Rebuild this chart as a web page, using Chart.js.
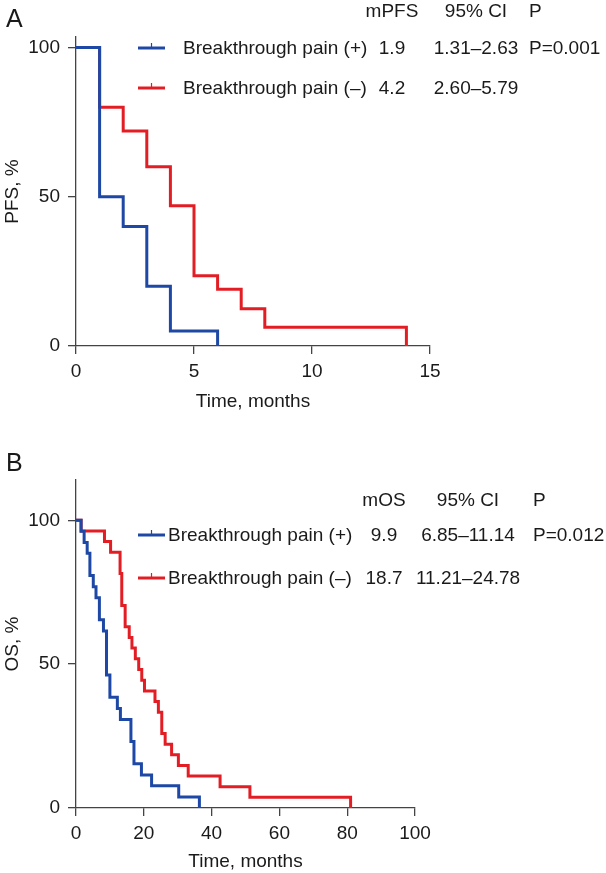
<!DOCTYPE html>
<html>
<head>
<meta charset="utf-8">
<script src="https://cdn.jsdelivr.net/npm/chart.js@4.4.1/dist/chart.umd.min.js"></script>
<style>
  body { margin: 0; background: #fff; }
  canvas { display: block; }
</style>
</head>
<body>
<canvas id="pfsChart" width="606" height="430"></canvas>
<canvas id="osChart" width="606" height="443"></canvas>
<script>
// Panel A - progression-free survival
const pfsTimePos = [0, 1, 2, 3, 4, 6];
const pfsSurvPos = [100, 50, 40, 20, 5, 0];
const pfsTimeNeg = [0, 1, 2, 3, 4, 5, 6, 7, 8, 14];
const pfsSurvNeg = [100, 80, 72, 60, 47, 23.5, 19, 12.5, 6.3, 0];
const pfsXTicks = [0, 5, 10, 15];

// Panel B - overall survival
const osTimePos = [0, 1.5, 2.4, 3.3, 4.1, 5.1, 5.9, 6.9, 8.1, 9.0, 10.0, 12.2, 13.1, 16.2, 17.1, 19.3, 22.3, 30.3, 36.4];
const osSurvPos = [100, 96.2, 92.3, 88.5, 80.8, 76.9, 73.1, 65.4, 61.5, 46.2, 38.5, 34.6, 30.8, 23.1, 15.4, 11.5, 7.7, 3.8, 0];
const osTimeNeg = [0, 1.5, 8.4, 10.2, 13.0, 13.5, 14.5, 15.7, 16.5, 17.5, 18.5, 19.4, 20.2, 23.3, 24.3, 25.3, 26.3, 28.2, 30.2, 33.1, 42.5, 51.3, 81.0];
const osSurvNeg = [100, 96.3, 92.6, 88.9, 81.5, 70.4, 63.0, 59.3, 55.6, 51.9, 48.1, 44.4, 40.7, 37.0, 33.3, 25.9, 22.2, 18.5, 14.8, 11.1, 7.4, 3.7, 0];
const osXTicks = [0, 20, 40, 60, 80, 100];

const yTicks = [0, 50, 100];
const groupLabels = ["Breakthrough pain (+)", "Breakthrough pain (\u2013)"];
const pfsMedian = ["1.9", "4.2"];
const pfsCI = ["1.31\u20132.63", "2.60\u20135.79"];
const pfsP = "P=0.001";
const osMedian = ["9.9", "18.7"];
const osCI = ["6.85\u201311.14", "11.21\u201324.78"];
const osP = "P=0.012";

const blue = "rgb(30, 72, 165)";
const red = "rgb(226, 30, 36)";
const axisColor = "#444";
const textColor = "#1a1a1a";
const fontFamily = '"Liberation Sans", Arial, Helvetica, sans-serif';

const toPoints = (t, s) => t.map((v, i) => ({ x: v, y: s[i] }));

// draws the panel letter, the legend markers and the median table
const tablePlugin = {
  id: "kmTable",
  afterDraw(chart, args, o) {
    const ctx = chart.ctx;
    ctx.save();
    ctx.fillStyle = textColor;
    ctx.textBaseline = "middle";
    ctx.font = "25px " + fontFamily;
    ctx.textAlign = "left";
    ctx.fillText(o.letter, 6, o.letterY);

    ctx.font = "19px " + fontFamily;
    ctx.textAlign = "center";
    ctx.fillText(o.medHead, o.medX, o.headY);
    ctx.fillText("95% CI", o.ciX, o.headY);
    ctx.textAlign = "left";
    ctx.fillText("P", o.pX, o.headY);

    [blue, red].forEach((col, i) => {
      const y = o.rowY[i];
      ctx.strokeStyle = col;
      ctx.lineWidth = 3;
      ctx.beginPath();
      ctx.moveTo(o.markX0, y);
      ctx.lineTo(o.markX1, y);
      ctx.stroke();
      ctx.lineWidth = 1.2;
      ctx.beginPath();
      const mx = (o.markX0 + o.markX1) / 2;
      ctx.moveTo(mx, y - 5);
      ctx.lineTo(mx, y + 1);
      ctx.stroke();

      ctx.fillStyle = textColor;
      ctx.textAlign = "left";
      ctx.fillText(groupLabels[i], o.labelX, y + 1);
      ctx.textAlign = "center";
      ctx.fillText(o.median[i], o.medX, y + 1);
      ctx.fillText(o.ci[i], o.ciX, y + 1);
      if (i === 0) {
        ctx.textAlign = "left";
        ctx.fillText(o.p, o.pX, y + 1);
      }
    });
    ctx.restore();
  },
};

function kmChart(id, cfg) {
  const font = { size: 19, family: fontFamily };
  return new Chart(document.getElementById(id).getContext("2d"), {
    type: "line",
    data: {
      datasets: [
        {
          label: groupLabels[0],
          data: toPoints(cfg.tPos, cfg.sPos),
          borderColor: blue,
          borderWidth: 3,
          stepped: "before",
          pointRadius: 0,
          fill: false,
          clip: false,
        },
        {
          label: groupLabels[1],
          data: toPoints(cfg.tNeg, cfg.sNeg),
          borderColor: red,
          borderWidth: 3,
          stepped: "before",
          pointRadius: 0,
          fill: false,
          clip: false,
        },
      ],
    },
    options: {
      responsive: false,
      animation: false,
      devicePixelRatio: 1,
      layout: { padding: cfg.padding },
      plugins: {
        legend: { display: false },
        tooltip: { enabled: false },
        kmTable: cfg.table,
      },
      scales: {
        x: {
          type: "linear",
          min: 0,
          max: cfg.xMax,
          afterBuildTicks: (s) => {
            s.ticks = cfg.xTicks.map((v) => ({ value: v }));
          },
          afterFit: (s) => {
            s.height = cfg.xHeight;
          },
          grid: { drawOnChartArea: false, tickLength: 8, color: axisColor, lineWidth: 1.3 },
          border: { display: true, color: axisColor, width: 1.3 },
          ticks: { color: textColor, font, padding: 6, maxRotation: 0, autoSkip: false },
          title: { display: true, text: "Time, months", color: textColor, font, padding: { top: 0, bottom: 0 } },
        },
        y: {
          type: "linear",
          min: 0,
          max: cfg.yMax,
          afterBuildTicks: (s) => {
            s.ticks = yTicks.map((v) => ({ value: v }));
          },
          afterFit: (s) => {
            s.width = 76;
          },
          grid: { drawOnChartArea: false, tickLength: 8, color: axisColor, lineWidth: 1.3 },
          border: { display: true, color: axisColor, width: 1.3 },
          ticks: { color: textColor, font, padding: 8 },
          title: { display: true, text: cfg.yTitle, color: textColor, font, padding: { top: 1, bottom: 0 } },
        },
      },
    },
    plugins: [tablePlugin],
  });
}

kmChart("pfsChart", {
  tPos: pfsTimePos, sPos: pfsSurvPos, tNeg: pfsTimeNeg, sNeg: pfsSurvNeg,
  xMax: 15, xTicks: pfsXTicks, yMax: 103.5, yTitle: "PFS, %",
  xHeight: 67,
  padding: { top: 37, right: 176, bottom: 17, left: 0 },
  table: {
    letter: "A", letterY: 20, medHead: "mPFS", headY: 12, rowY: [48, 88],
    markX0: 138, markX1: 165, labelX: 183, medX: 392, ciX: 476, pX: 529,
    median: pfsMedian, ci: pfsCI, p: pfsP,
  },
});

kmChart("osChart", {
  tPos: osTimePos, sPos: osSurvPos, tNeg: osTimeNeg, sNeg: osSurvNeg,
  xMax: 100, xTicks: osXTicks, yMax: 114, yTitle: "OS, %",
  xHeight: 65,
  padding: { top: 50, right: 191, bottom: 0, left: 0 },
  table: {
    letter: "B", letterY: 34, medHead: "mOS", headY: 71, rowY: [105, 148],
    markX0: 138, markX1: 165, labelX: 168, medX: 384, ciX: 468, pX: 533,
    median: osMedian, ci: osCI, p: osP,
  },
});
</script>
</body>
</html>
